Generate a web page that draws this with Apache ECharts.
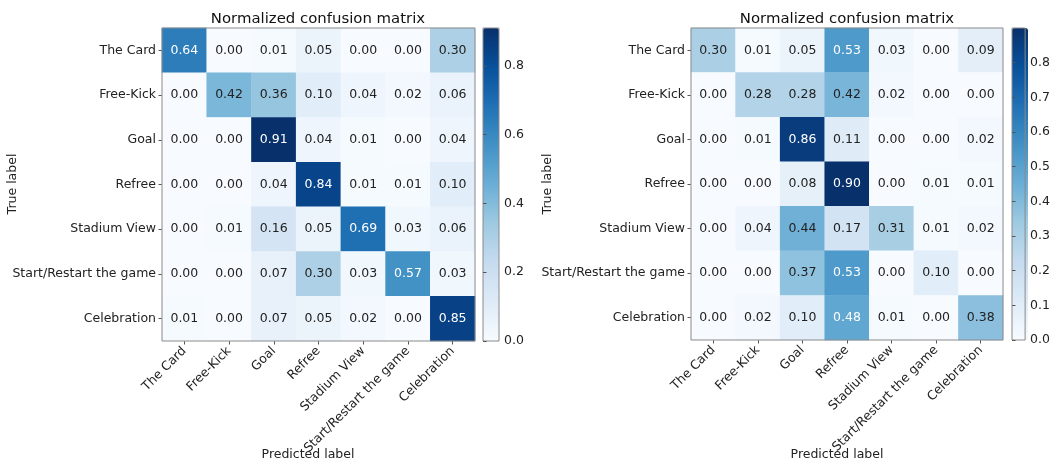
<!DOCTYPE html>
<html>
<head>
<meta charset="utf-8">
<script src="https://cdn.jsdelivr.net/npm/echarts@6/dist/echarts.min.js"></script>
<style>
  html, body { margin: 0; padding: 0; background: #fff; }
  #chart { width: 1053px; height: 464px; }
</style>
</head>
<body>
<div id="chart"></div>
<script>
// Class names shared by both matrices (rows = true label, columns = predicted label)
const categories = ['The Card', 'Free-Kick', 'Goal', 'Refree', 'Stadium View', 'Start/Restart the game', 'Celebration'];

// Left model: row-normalized confusion matrix
const matrixLeft = [
  [0.64, 0.00, 0.01, 0.05, 0.00, 0.00, 0.30],
  [0.00, 0.42, 0.36, 0.10, 0.04, 0.02, 0.06],
  [0.00, 0.00, 0.91, 0.04, 0.01, 0.00, 0.04],
  [0.00, 0.00, 0.04, 0.84, 0.01, 0.01, 0.10],
  [0.00, 0.01, 0.16, 0.05, 0.69, 0.03, 0.06],
  [0.00, 0.00, 0.07, 0.30, 0.03, 0.57, 0.03],
  [0.01, 0.00, 0.07, 0.05, 0.02, 0.00, 0.85]
];

// Right model: row-normalized confusion matrix
const matrixRight = [
  [0.30, 0.01, 0.05, 0.53, 0.03, 0.00, 0.09],
  [0.00, 0.28, 0.28, 0.42, 0.02, 0.00, 0.00],
  [0.00, 0.01, 0.86, 0.11, 0.00, 0.00, 0.02],
  [0.00, 0.00, 0.08, 0.90, 0.00, 0.01, 0.01],
  [0.00, 0.04, 0.44, 0.17, 0.31, 0.01, 0.02],
  [0.00, 0.00, 0.37, 0.53, 0.00, 0.10, 0.00],
  [0.00, 0.02, 0.10, 0.48, 0.01, 0.00, 0.38]
];

// Colorbar tick labels
const ticksLeft = [0.0, 0.2, 0.4, 0.6, 0.8];
const ticksRight = [0.0, 0.1, 0.2, 0.3, 0.4, 0.5, 0.6, 0.7, 0.8];

const titleText = 'Normalized confusion matrix';
const xName = 'Predicted label';
const yName = 'True label';

// matplotlib "Blues" colormap stops
const BLUES = ['#f7fbff', '#deebf7', '#c6dbef', '#9ecae1', '#6baed6', '#4292c6', '#2171b5', '#08519c', '#08306b'];
const FONT = 'DejaVu Sans';
const FS = 12.5;
const INK = '#222222';
const EDGE = '#8a8a8a';

function maxOf(m) { return Math.max.apply(null, m.map(r => Math.max.apply(null, r))); }

function cells(m) {
  const vmax = maxOf(m);
  const out = [];
  m.forEach((row, i) => row.forEach((v, j) => {
    out.push({
      value: [j, i, v],
      label: { color: v > vmax / 2 ? '#ffffff' : INK }
    });
  }));
  return out;
}

// Panel geometry
const panels = [
  { m: matrixLeft,  ticks: ticksLeft,  left: 162, top: 28, size: 313, cbLeft: 483, cbWidth: 16, titleX: 318, xNameX: 308, yNameX: 13 },
  { m: matrixRight, ticks: ticksRight, left: 691, top: 28, size: 312, cbLeft: 1012, cbWidth: 16, titleX: 847, xNameX: 837, yNameX: 548 }
];

const grid = [], xAxis = [], yAxis = [], series = [], visualMap = [], graphic = [];

panels.forEach((p) => {
  const vmax = maxOf(p.m);
  const gMatrix = grid.length;
  grid.push({ left: p.left, top: p.top, width: p.size, height: p.size, show: true,
              borderColor: EDGE, borderWidth: 1, backgroundColor: 'transparent', z: 5 });
  xAxis.push({
    type: 'category', gridIndex: gMatrix, data: categories, position: 'bottom',
    axisLine: { show: false },
    axisTick: { show: true, alignWithLabel: true, length: 3.5, lineStyle: { color: '#555' } },
    axisLabel: { interval: 0, rotate: 45, fontFamily: FONT, fontSize: FS, color: INK, margin: 8 },
    splitLine: { show: false }, splitArea: { show: false }
  });
  yAxis.push({
    type: 'category', gridIndex: gMatrix, data: categories, inverse: true,
    axisLine: { show: false },
    axisTick: { show: true, alignWithLabel: true, length: 3.5, lineStyle: { color: '#555' } },
    axisLabel: { interval: 0, fontFamily: FONT, fontSize: FS, color: INK, margin: 6 },
    splitLine: { show: false }, splitArea: { show: false }
  });
  const sIdx = series.length;
  series.push({
    type: 'heatmap', xAxisIndex: xAxis.length - 1, yAxisIndex: yAxis.length - 1,
    data: cells(p.m),
    label: { show: true, fontFamily: FONT, fontSize: FS,
             formatter: (prm) => prm.value[2].toFixed(2) },
    itemStyle: { borderWidth: 0 },
    emphasis: { disabled: true },
    silent: true
  });
  visualMap.push({
    type: 'continuous', seriesIndex: sIdx, dimension: 2, min: 0, max: vmax,
    inRange: { color: BLUES }, orient: 'vertical',
    left: p.cbLeft, top: p.top, itemWidth: p.cbWidth, itemHeight: p.size,
    padding: 0, calculable: false, hoverLink: false, text: null, realtime: false,
    showLabel: false
  });

  // Colorbar frame and tick axis
  const gBar = grid.length;
  grid.push({ left: p.cbLeft, top: p.top, width: p.cbWidth, height: p.size, show: true,
              borderColor: EDGE, borderWidth: 1, backgroundColor: 'transparent', z: 10 });
  xAxis.push({ type: 'value', gridIndex: gBar, show: false, min: 0, max: 1 });
  yAxis.push({
    type: 'value', gridIndex: gBar, position: 'right', min: 0, max: vmax,
    axisLine: { show: false }, splitLine: { show: false },
    axisTick: { show: true, length: 3.5, customValues: p.ticks, lineStyle: { color: '#555' } },
    axisLabel: { customValues: p.ticks, fontFamily: FONT, fontSize: FS, color: INK, margin: 5,
                 formatter: (v) => v.toFixed(1) },
    z: 10
  });

  graphic.push({ type: 'text', x: p.titleX, y: 19, z: 20,
    style: { text: titleText, font: '14.9px "' + FONT + '"', fill: '#111', align: 'center', verticalAlign: 'middle' } });
  graphic.push({ type: 'text', x: p.xNameX, y: 455, z: 20,
    style: { text: xName, font: FS + 'px "' + FONT + '"', fill: INK, align: 'center', verticalAlign: 'middle' } });
  graphic.push({ type: 'text', x: p.yNameX, y: 184, rotation: Math.PI / 2, z: 20,
    style: { text: yName, font: FS + 'px "' + FONT + '"', fill: INK, align: 'center', verticalAlign: 'middle' } });
});

const chart = echarts.init(document.getElementById('chart'), null, { renderer: 'canvas' });
chart.setOption({
  backgroundColor: '#ffffff',
  animation: false,
  grid, xAxis, yAxis, series, visualMap, graphic
});
</script>
</body>
</html>
